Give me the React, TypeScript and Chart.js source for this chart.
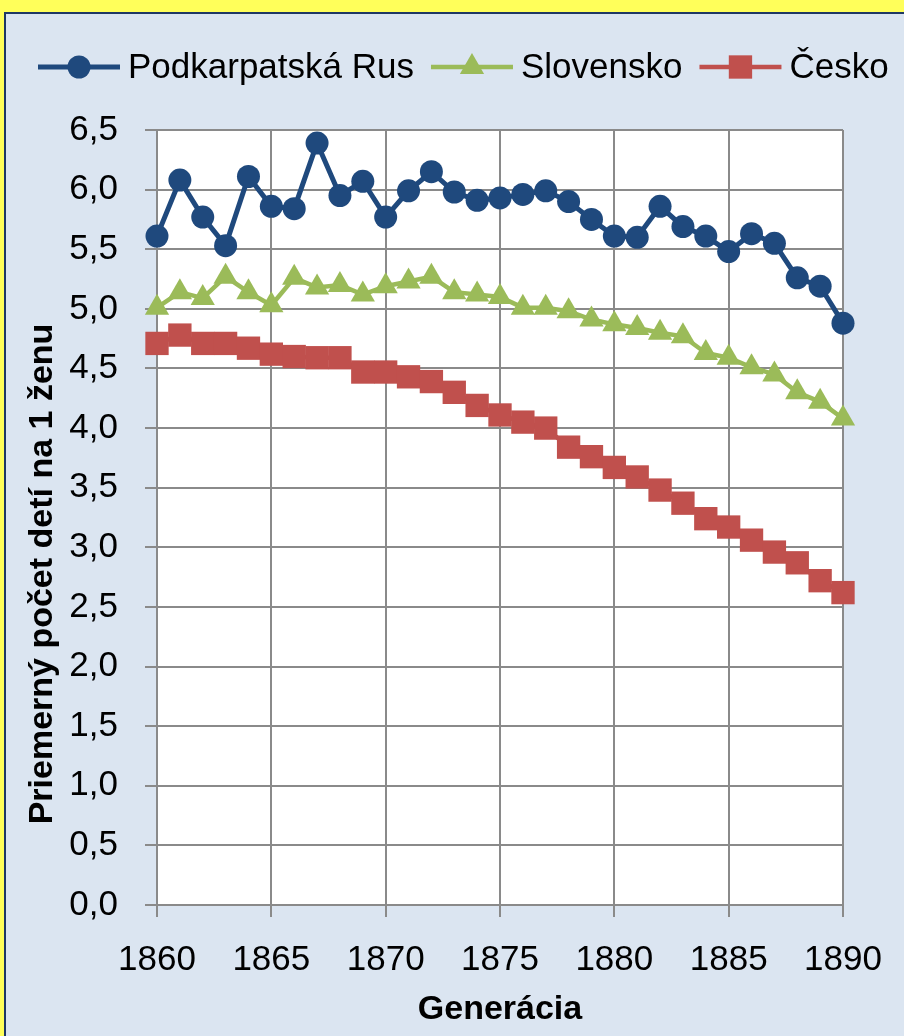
import React, { useEffect, useRef } from 'react';
import { Chart, registerables } from 'chart.js';

Chart.register(...registerables);

const FONT = '"Liberation Sans", Arial, sans-serif';

const years = [
  1860, 1861, 1862, 1863, 1864, 1865, 1866, 1867, 1868, 1869,
  1870, 1871, 1872, 1873, 1874, 1875, 1876, 1877, 1878, 1879,
  1880, 1881, 1882, 1883, 1884, 1885, 1886, 1887, 1888, 1889, 1890,
];

const podkarpatskaRus = [
  5.61, 6.08, 5.77, 5.53, 6.11, 5.86, 5.84, 6.39, 5.95, 6.07,
  5.77, 5.99, 6.15, 5.98, 5.91, 5.93, 5.96, 5.99, 5.90, 5.75,
  5.61, 5.60, 5.86, 5.69, 5.61, 5.48, 5.63, 5.55, 5.26, 5.19, 4.88,
];

const slovensko = [
  5.01, 5.14, 5.09, 5.27, 5.14, 5.03, 5.26, 5.18, 5.20, 5.12,
  5.19, 5.23, 5.27, 5.14, 5.12, 5.10, 5.01, 5.01, 4.98, 4.91,
  4.87, 4.84, 4.80, 4.77, 4.63, 4.59, 4.51, 4.45, 4.30, 4.22, 4.08,
];

const cesko = [
  4.71, 4.78, 4.71, 4.71, 4.67, 4.62, 4.60, 4.59, 4.59, 4.47,
  4.47, 4.43, 4.39, 4.30, 4.19, 4.11, 4.05, 4.00, 3.84, 3.76,
  3.67, 3.59, 3.48, 3.37, 3.24, 3.17, 3.06, 2.96, 2.87, 2.72, 2.62,
];

const seriesLabels = ['Podkarpatská Rus', 'Slovensko', 'Česko'];
const xAxisTitle = 'Generácia';
const yAxisTitle = 'Priemerný počet detí na 1 ženu';

const toPoints = (vals: number[]) => years.map((yr, i) => ({ x: yr, y: vals[i] }));

function drawMarker(ctx: CanvasRenderingContext2D, style: string, x: number, y: number, r: number, color: string) {
  ctx.fillStyle = color;
  ctx.beginPath();
  if (style === 'circle') {
    ctx.arc(x, y, r, 0, Math.PI * 2);
  } else if (style === 'triangle') {
    for (let k = 0; k < 3; k++) {
      const a = -Math.PI / 2 + (k * 2 * Math.PI) / 3;
      const px = x + Math.cos(a) * r;
      const py = y + Math.sin(a) * r;
      if (k === 0) ctx.moveTo(px, py);
      else ctx.lineTo(px, py);
    }
    ctx.closePath();
  } else {
    const s = Math.SQRT1_2 * r;
    ctx.rect(x - s, y - s, 2 * s, 2 * s);
  }
  ctx.fill();
}

const backgroundPlugin = {
  id: 'plotBg',
  beforeDraw(chart: any) {
    const { ctx, chartArea } = chart;
    ctx.save();
    ctx.fillStyle = '#FFFFFF';
    ctx.fillRect(chartArea.left, chartArea.top, chartArea.right - chartArea.left, chartArea.bottom - chartArea.top);
    ctx.restore();
  },
};

const legendAndTitlePlugin = {
  id: 'legendAndTitle',
  afterDraw(chart: any) {
    const ctx: CanvasRenderingContext2D = chart.ctx;
    ctx.save();
    // legend
    ctx.font = `35px ${FONT}`;
    ctx.textBaseline = 'middle';
    ctx.textAlign = 'left';
    let x = 38;
    const y = 67;
    chart.data.datasets.forEach((ds: any) => {
      ctx.strokeStyle = ds.borderColor;
      ctx.lineWidth = ds.borderWidth;
      ctx.beginPath();
      ctx.moveTo(x, y);
      ctx.lineTo(x + 82, y);
      ctx.stroke();
      drawMarker(ctx, ds.pointStyle, x + 41, y, ds.pointRadius, ds.backgroundColor);
      ctx.fillStyle = '#000000';
      ctx.fillText(ds.label, x + 90, y + 1);
      x += 90 + ctx.measureText(ds.label).width + 17;
    });
    // y-axis title
    ctx.translate(43, 574);
    ctx.rotate(-Math.PI / 2);
    ctx.font = `bold 34px ${FONT}`;
    ctx.textAlign = 'center';
    ctx.textBaseline = 'middle';
    ctx.fillStyle = '#000000';
    ctx.fillText(yAxisTitle, 0, 0);
    ctx.restore();
  },
};

export default function App() {
  const canvasRef = useRef<HTMLCanvasElement | null>(null);

  useEffect(() => {
    if (!canvasRef.current) return;
    const gridColor = '#8A8A8A';
    const chart = new Chart(canvasRef.current, {
      type: 'line',
      data: {
        datasets: [
          {
            label: seriesLabels[0],
            data: toPoints(podkarpatskaRus),
            borderColor: '#1F497D',
            backgroundColor: '#1F497D',
            borderWidth: 5,
            pointStyle: 'circle',
            pointRadius: 11.5,
            pointBorderWidth: 0,
            tension: 0,
            clip: false,
          },
          {
            label: seriesLabels[1],
            data: toPoints(slovensko),
            borderColor: '#9BBB59',
            backgroundColor: '#9BBB59',
            borderWidth: 4.5,
            pointStyle: 'triangle',
            pointRadius: 14,
            pointBorderWidth: 0,
            tension: 0,
            clip: false,
          },
          {
            label: seriesLabels[2],
            data: toPoints(cesko),
            borderColor: '#C0504D',
            backgroundColor: '#C0504D',
            borderWidth: 4.5,
            pointStyle: 'rect',
            pointRadius: 16.5,
            pointBorderWidth: 0,
            tension: 0,
            clip: false,
          },
        ] as any,
      },
      options: {
        responsive: false,
        animation: false,
        layout: { padding: { top: 130, right: 61, bottom: 0, left: 0 } },
        plugins: {
          legend: { display: false },
          tooltip: { enabled: false },
        },
        scales: {
          x: {
            type: 'linear',
            min: 1860,
            max: 1890,
            ticks: {
              stepSize: 5,
              autoSkip: false,
              maxRotation: 0,
              padding: 22,
              color: '#000000',
              font: { family: FONT, size: 35 },
              callback: (v: any) => String(v),
            },
            grid: { color: gridColor, lineWidth: 2, tickLength: 12, drawTicks: true },
            border: { color: gridColor, width: 2 },
            title: {
              display: true,
              text: xAxisTitle,
              color: '#000000',
              font: { family: FONT, size: 34, weight: 'bold' },
              padding: { top: 0, bottom: 6 },
            },
            afterFit: (s: any) => {
              s.height = 131;
            },
          },
          y: {
            type: 'linear',
            min: 0,
            max: 6.5,
            ticks: {
              stepSize: 0.5,
              padding: 27,
              color: '#000000',
              font: { family: FONT, size: 35 },
              callback: (v: any) => Number(v).toFixed(1).replace('.', ','),
            },
            grid: { color: gridColor, lineWidth: 2, tickLength: 12, drawTicks: true },
            border: { color: gridColor, width: 2 },
            afterFit: (s: any) => {
              s.width = 157;
            },
          },
        } as any,
      },
      plugins: [backgroundPlugin, legendAndTitlePlugin],
    });
    return () => chart.destroy();
  }, []);

  return (
    <div
      style={{
        position: 'fixed',
        left: 0,
        top: 0,
        width: 904,
        height: 1036,
        background: '#FFFF5A',
        overflow: 'hidden',
      }}
    >
      <div
        style={{
          position: 'absolute',
          left: 4,
          top: 12,
          width: 920,
          height: 1050,
          background: '#DBE5F1',
          borderTop: '2px solid #1F3864',
          borderLeft: '2px solid #1F3864',
        }}
      />
      <canvas
        ref={canvasRef}
        width={904}
        height={1036}
        style={{ position: 'absolute', left: 0, top: 0 }}
      />
    </div>
  );
}
